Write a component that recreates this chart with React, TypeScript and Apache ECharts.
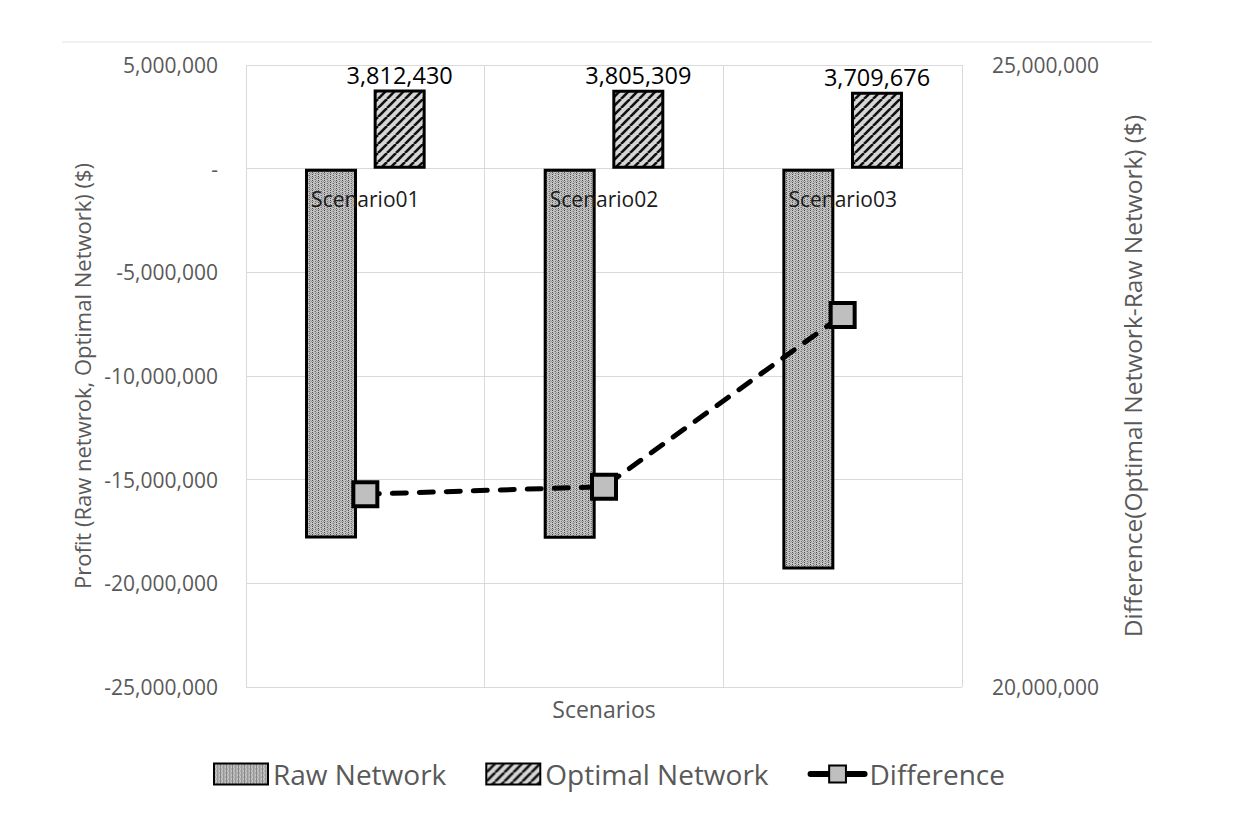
import React, { useEffect, useRef } from "react";
import * as echarts from "echarts";

const categories = ["Scenario01", "Scenario02", "Scenario03"];
const rawNetwork = [-17840000, -17850000, -19330000];
const optimalNetwork = [3812430, 3805309, 3709676];
const difference = [21550000, 21610000, 22990000];

const profitMin = -25000000;
const profitMax = 5000000;
const profitStep = 5000000;
const diffMin = 20000000;
const diffMax = 25000000;
const diffStep = 5000000;

const seriesNames = ["Raw Network", "Optimal Network", "Difference"];
const xAxisTitle = "Scenarios";
const leftAxisTitle = "Profit (Raw netwrok, Optimal Network) ($)";
const rightAxisTitle = "Difference(Optimal Network-Raw Network) ($)";

const fmt = (v: number) => Number(v).toLocaleString("en-US");

function makeRawPattern(): HTMLCanvasElement {
  const c = document.createElement("canvas");
  c.width = 6;
  c.height = 4;
  const g = c.getContext("2d")!;
  g.fillStyle = "#c4c4c4";
  g.fillRect(0, 0, 6, 4);
  g.fillStyle = "#4a4a4a";
  g.fillRect(0, 0, 1, 1);
  g.fillRect(0, 2, 1, 1);
  g.fillStyle = "#6e6e6e";
  g.fillRect(3, 1, 1, 1);
  g.fillRect(3, 3, 1, 1);
  g.fillStyle = "#999999";
  g.fillRect(1, 1, 1, 1);
  g.fillRect(4, 0, 1, 1);
  g.fillRect(4, 2, 1, 1);
  g.fillRect(2, 3, 1, 1);
  g.fillRect(5, 1, 1, 1);
  return c;
}

function makeHatchPattern(): HTMLCanvasElement {
  const s = 9;
  const c = document.createElement("canvas");
  c.width = s;
  c.height = s;
  const g = c.getContext("2d")!;
  g.fillStyle = "#d6d6d6";
  g.fillRect(0, 0, s, s);
  g.strokeStyle = "#111111";
  g.lineWidth = 2.6;
  for (const off of [-s, 0, s]) {
    g.beginPath();
    g.moveTo(off, s);
    g.lineTo(off + s, 0);
    g.stroke();
  }
  return c;
}

export default function App() {
  const ref = useRef<HTMLDivElement>(null);

  useEffect(() => {
    if (!ref.current) return;
    const height = 820;
    const gridTop = 65;
    const gridBottom = 133;
    const chart = echarts.init(ref.current, undefined, { renderer: "svg" });
    const rawPattern = { image: makeRawPattern(), repeat: "repeat" };
    const hatchPattern = { image: makeHatchPattern(), repeat: "repeat" };
    const font = "'Open Sans', 'Noto Sans', sans-serif";
    // distance from the top of the plot to the zero line of the profit axis
    const plotHeight = height - gridTop - gridBottom;
    const zeroOffset = (plotHeight * (profitMax - 0)) / (profitMax - profitMin);

    const option: any = {
      animation: false,
      backgroundColor: "#ffffff",
      textStyle: { fontFamily: font },
      graphic: [
        {
          type: "line",
          shape: { x1: 62, y1: 42, x2: 1152, y2: 42 },
          style: { stroke: "#e3e3e3", lineWidth: 1 },
          silent: true,
        },
      ],
      grid: { left: 246, right: 290, top: gridTop, bottom: gridBottom },
      legend: {
        left: 208,
        top: 755,
        itemWidth: 54,
        itemHeight: 21,
        itemGap: 39,
        textStyle: { fontSize: 28, color: "#595959", fontFamily: font },
        data: [
          { name: seriesNames[0], icon: "rect" },
          { name: seriesNames[1], icon: "rect" },
          { name: seriesNames[2], lineStyle: { type: "solid", width: 6 } },
        ],
      },
      xAxis: [
        {
          type: "category",
          data: categories,
          position: "bottom",
          axisLine: { show: false, onZero: false },
          axisTick: { show: false },
          axisLabel: { show: false },
          splitLine: { show: true, lineStyle: { color: "#d9d9d9", width: 1 } },
          name: xAxisTitle,
          nameLocation: "middle",
          nameGap: 10,
          nameTextStyle: { color: "#595959", fontSize: 23, fontFamily: font },
        },
        {
          type: "category",
          data: categories,
          position: "top",
          offset: -zeroOffset,
          z: 5,
          axisLine: { show: false, onZero: false },
          axisTick: { show: false },
          axisLabel: { inside: true, color: "#1a1a1a", fontSize: 21, margin: 20, fontFamily: font },
          splitLine: { show: false },
        },
      ],
      yAxis: [
        {
          type: "value",
          position: "left",
          min: profitMin,
          max: profitMax,
          interval: profitStep,
          axisLine: { show: false },
          axisTick: { show: false },
          axisLabel: {
            color: "#595959",
            fontSize: 21,
            margin: 28,
            fontFamily: font,
            formatter: (v: number) => (v === 0 ? "-" : fmt(v)),
          },
          splitLine: { show: true, lineStyle: { color: "#d9d9d9", width: 1 } },
          name: leftAxisTitle,
          nameLocation: "middle",
          nameRotate: 90,
          nameGap: 150,
          nameTextStyle: { color: "#595959", fontSize: 22, fontFamily: font },
        },
        {
          type: "value",
          position: "right",
          min: diffMin,
          max: diffMax,
          interval: diffStep,
          axisLine: { show: false },
          axisTick: { show: false },
          axisLabel: {
            color: "#595959",
            fontSize: 21,
            margin: 30,
            fontFamily: font,
            formatter: (v: number) => fmt(v),
          },
          splitLine: { show: false },
          name: rightAxisTitle,
          nameLocation: "middle",
          nameRotate: 90,
          nameGap: 158,
          nameTextStyle: { color: "#595959", fontSize: 24.5, fontFamily: font },
        },
      ],
      series: [
        {
          name: seriesNames[0],
          type: "bar",
          data: rawNetwork,
          barWidth: 52,
          barGap: "32%",
          itemStyle: { color: rawPattern, borderColor: "#000000", borderWidth: 3 },
        },
        {
          name: seriesNames[1],
          type: "bar",
          data: optimalNetwork,
          barWidth: 52,
          itemStyle: { color: hatchPattern, borderColor: "#000000", borderWidth: 3 },
          label: {
            show: true,
            position: "top",
            distance: 3,
            color: "#000000",
            fontSize: 23.5,
            fontFamily: font,
            formatter: (p: any) => fmt(p.value),
          },
        },
        {
          name: seriesNames[2],
          type: "line",
          yAxisIndex: 1,
          data: difference,
          z: 10,
          symbol: "rect",
          symbolSize: 24,
          lineStyle: { color: "#000000", width: 5, type: [14, 13], cap: "round" },
          itemStyle: { color: "#bfbfbf", borderColor: "#000000", borderWidth: 4 },
        },
      ],
    };

    chart.setOption(option);
    return () => chart.dispose();
  }, []);

  return (
    <div
      ref={ref}
      style={{ position: "fixed", left: 0, top: 0, width: 1252, height: 820, background: "#fff" }}
    />
  );
}
